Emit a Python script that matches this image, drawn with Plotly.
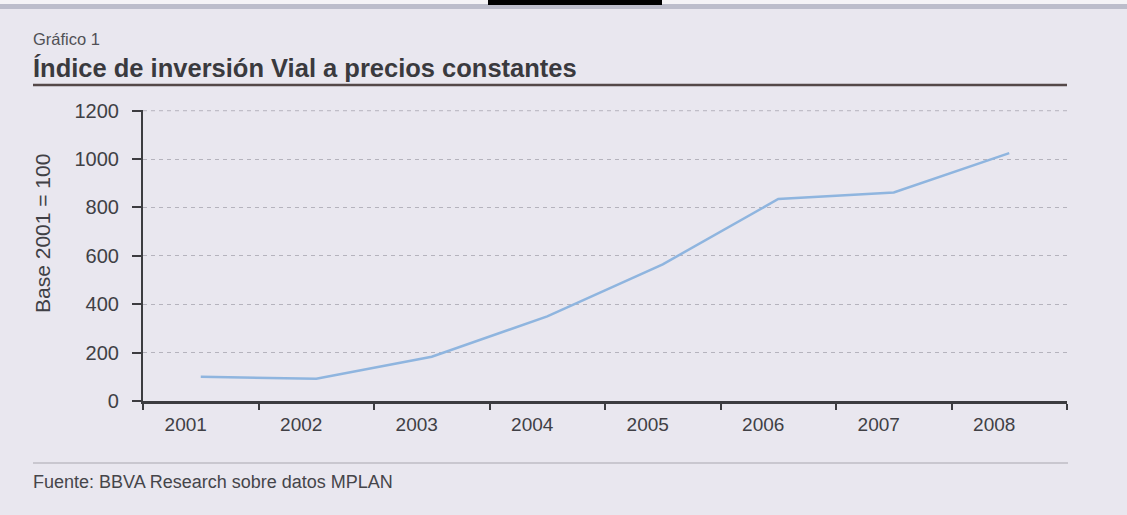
import plotly.graph_objects as go

# Índice de inversión vial a precios constantes (base 2001 = 100)
years = ["2001", "2002", "2003", "2004", "2005", "2006", "2007", "2008"]
index_values = [100, 92, 183, 350, 565, 835, 862, 1025]
y_ticks = [0, 200, 400, 600, 800, 1000, 1200]

W, H = 1127, 515
L, R, T, B = 143, 60, 110, 114
plot_w = W - L - R
plot_h = H - T - B


def px(x):
    """Pixel x -> paper coordinate."""
    return (x - L) / plot_w


def py(y):
    """Pixel y (from top) -> paper coordinate."""
    return (H - B - y) / plot_h


BG = "#e9e7ef"
INK = "#3c3c40"
TEXT = "#404045"
GRID = "#b5b3bd"
FONT = "Liberation Sans, Arial, sans-serif"

fig = go.Figure()
fig.add_trace(go.Scatter(
    x=years, y=index_values, mode="lines",
    line=dict(color="#8fb5df", width=2.5),
    hoverinfo="x+y", showlegend=False,
))

fig.update_layout(
    width=W, height=H,
    margin=dict(l=L, r=R, t=T, b=B),
    paper_bgcolor=BG, plot_bgcolor="rgba(0,0,0,0)",
    font=dict(family=FONT, color=INK),
    xaxis=dict(
        type="category", range=[-0.5, len(years) - 0.5],
        tickson="boundaries", ticks="outside", ticklen=6, tickwidth=1.5,
        tickcolor=INK, showline=True, linecolor=INK, linewidth=3,
        showgrid=False, zeroline=False,
        tickfont=dict(size=19, color=TEXT),
        ticklabelshift=-15, ticklabelstandoff=4,
    ),
    yaxis=dict(
        range=[0, 1203], tickvals=y_ticks,
        ticks="outside", ticklen=9, tickwidth=1.5, tickcolor=INK,
        showline=True, linecolor=INK, linewidth=2.2,
        showgrid=True, gridcolor=GRID, gridwidth=1, griddash="4px,4px",
        zeroline=False,
        tickfont=dict(size=20, color=TEXT),
        ticklabelstandoff=9,
    ),
)

# top gridline at the last tick value
fig.add_shape(type="line", xref="paper", yref="y",
              x0=0, x1=1, y0=y_ticks[-1], y1=y_ticks[-1],
              line=dict(color=GRID, width=1, dash="4px,4px"), layer="below")

# axis title, heading, rules and source note
fig.add_annotation(text="Base 2001 = 100", xref="paper", yref="paper",
                   x=px(42), y=py(234), textangle=-90,
                   xanchor="center", yanchor="middle", showarrow=False,
                   font=dict(size=21, color=TEXT))
fig.add_annotation(text="Gráfico 1", xref="paper", yref="paper",
                   x=px(31), y=py(39), xanchor="left", yanchor="middle",
                   showarrow=False, font=dict(size=16.5, color="#505055"))
fig.add_annotation(text="<b>Índice de inversión Vial a precios constantes</b>",
                   xref="paper", yref="paper", x=px(31), y=py(68),
                   xanchor="left", yanchor="middle", showarrow=False,
                   font=dict(size=25.5, color="#3a3a3e"))
fig.add_annotation(text="Fuente: BBVA Research sobre datos MPLAN",
                   xref="paper", yref="paper", x=px(31), y=py(482),
                   xanchor="left", yanchor="middle", showarrow=False,
                   font=dict(size=18, color="#45454a"))

fig.add_shape(type="line", xref="paper", yref="paper",
              x0=px(33), x1=px(1067), y0=py(85), y1=py(85),
              line=dict(color="#544848", width=2.5))
fig.add_shape(type="line", xref="paper", yref="paper",
              x0=px(33), x1=px(1068), y0=py(463), y1=py(463),
              line=dict(color="#a9a7b0", width=1.2))

# top edge of the page
fig.add_shape(type="rect", xref="paper", yref="paper",
              x0=px(0), x1=px(W), y0=py(0), y1=py(4),
              line=dict(width=0), fillcolor="#f4f3f6")
fig.add_shape(type="rect", xref="paper", yref="paper",
              x0=px(0), x1=px(W), y0=py(4), y1=py(9),
              line=dict(width=0), fillcolor="rgba(120,128,150,0.40)")
fig.add_shape(type="rect", xref="paper", yref="paper",
              x0=px(488), x1=px(662), y0=py(0), y1=py(5),
              line=dict(width=0), fillcolor="#000000")

fig.write_html("out.html")
